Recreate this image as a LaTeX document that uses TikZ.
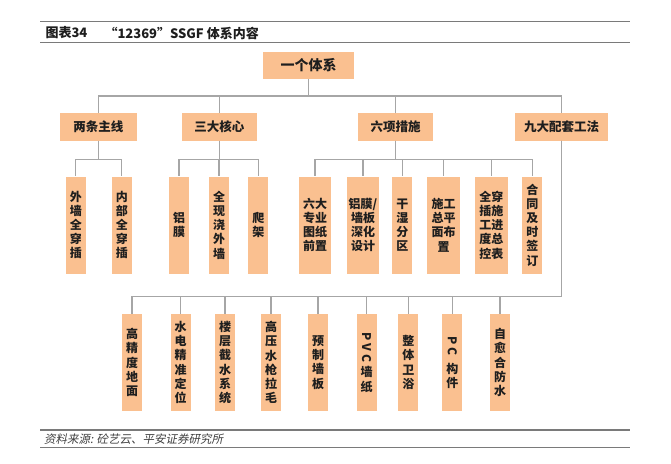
\documentclass[tikz,border=0pt]{standalone}
\usepackage{fontspec}
\usepackage{graphicx}
\newfontfamily\cjk{Noto Sans CJK SC}
\newfontfamily\cjkslant[FakeSlant=0.2]{Noto Sans CJK SC}
\definecolor{boxfill}{HTML}{FAC090}
\definecolor{linegray}{HTML}{A6A6A6}
\definecolor{rulegray}{HTML}{7A7A7A}
\definecolor{txt}{HTML}{1E1E1E}
\begin{document}
\begin{tikzpicture}[x=1pt,y=-1pt]
  \tikzstyle{block}=[fill=boxfill,text=txt,inner sep=0pt,align=center,font=\cjk\bfseries\fontsize{12}{14.2}\selectfont]
  \tikzstyle{head}=[block,minimum height=27.4pt,font=\cjk\bfseries\fontsize{12.5}{14}\selectfont]
  \tikzstyle{col}=[block,minimum width=20pt,minimum height=97pt]
  \tikzstyle{dcol}=[block,minimum width=32.5pt,minimum height=97pt]
  \tikzstyle{link}=[draw=linegray,line width=1.2pt]
  \tikzstyle{rule}=[draw=rulegray,line width=1.3pt]
  \def\ym{225}	% centre of the middle row
  \def\yb{362.5}	% centre of the bottom row
  \useasboundingbox (0,0) rectangle (671,463);

  % title and source
  \draw[rule] (40,21.7) -- (630,21.7);
  \draw[rule] (40,42.7) -- (630,42.7);
  \node[anchor=west,text=txt,font=\cjk\bfseries\fontsize{13}{15}\selectfont] (ttl) at (42,33) {图表34};
  \node[anchor=west,text=txt,font=\cjk\bfseries\fontsize{13}{15}\selectfont] (ttlb) at (101,33) {“12369”SSGF 体系内容};
  \draw[rule] (40,430) -- (630,430);
  \draw[rule] (40,447.3) -- (630,447.3);
  \node[anchor=west,text=black!75,font=\cjkslant\fontsize{11.5}{14}\selectfont] (src) at (40.5,439) {资料来源: 砼艺云、平安证券研究所};

  % head boxes
  \node[head,minimum width=91pt,font=\cjk\bfseries\fontsize{14}{16}\selectfont] (sys) at (308.5,65.5) {一个体系};
  \node[head,minimum width=76.7pt] (two) at (98.3,127) {两条主线};
  \node[head,minimum width=74.7pt] (three) at (219.3,127) {三大核心};
  \node[head,minimum width=74.4pt] (six) at (395.5,127) {六项措施};
  \node[head,minimum width=93.3pt] (nine) at (561.7,127) {九大配套工法};

  % middle row
  \node[col] (w1) at (75.8,\ym) {外\\墙\\全\\穿\\插};
  \node[col] (w2) at (121.8,\ym) {内\\部\\全\\穿\\插};
  \node[col] (c1) at (179,\ym) {铝\\膜};
  \node[col] (c2) at (219,\ym) {全\\现\\浇\\外\\墙};
  \node[col] (c3) at (258.3,\ym) {爬\\架};
  \node[dcol] (m1) at (315,\ym) {六大\\专业\\图纸\\前置};
  \node[dcol] (m2) at (363,\ym) {铝膜/\\墙板\\深化\\设计};
  \node[col] (m3) at (402.3,\ym) {干\\湿\\分\\区};
  \node[dcol] (m4) at (443.7,\ym) {施工\\总平\\面布\\置};
  \node[dcol] (m5) at (491.3,\ym) {全穿\\插施\\工进\\度总\\控表};
  \node[col] (m6) at (532.3,\ym) {合\\同\\及\\时\\签\\订};

  % bottom row
  \node[col] (b1) at (132,\yb) {高\\精\\度\\地\\面};
  \node[col] (b2) at (180.7,\yb) {水\\电\\精\\准\\定\\位};
  \node[col] (b3) at (225,\yb) {楼\\层\\截\\水\\系\\统};
  \node[col] (b4) at (271,\yb) {高\\压\\水\\枪\\拉\\毛};
  \node[col] (b5) at (318,\yb) {预\\制\\墙\\板};
  \node[col] (b6) at (366.7,\yb) {\rotatebox{-90}{P\hspace{3pt}V\hspace{3pt}C}\\[3pt]墙\\纸};
  \node[col] (b7) at (408.3,\yb) {整\\体\\卫\\浴};
  \node[col] (b8) at (452.3,\yb) {\rotatebox{-90}{P\hspace{3pt}C}\\[6pt]构\\件};
  \node[col] (b9) at (500,\yb) {自\\愈\\合\\防\\水};

  % buses
  \coordinate (busa) at (0,96);
  \coordinate (busb) at (0,159.3);
  \coordinate (busc) at (0,296.5);
  \foreach \c in {two,three,six,nine}
    \draw[link] (sys.south) -- (sys.south |- busa) -| (\c.north);
  \foreach \c in {w1,w2}
    \draw[link] (two.south) -- (two.south |- busb) -| (\c.north);
  \foreach \c in {c1,c2,c3}
    \draw[link] (three.south) -- (three.south |- busb) -| (\c.north);
  \foreach \c in {m1,m2,m3,m4,m5,m6}
    \draw[link] (six.south) -- (six.south |- busb) -| (\c.north);
  \foreach \c in {b1,b2,b3,b4,b5,b6,b7,b8,b9}
    \draw[link] (nine.south) -- (nine.south |- busc) -| (\c.north);
\end{tikzpicture}
\end{document}
